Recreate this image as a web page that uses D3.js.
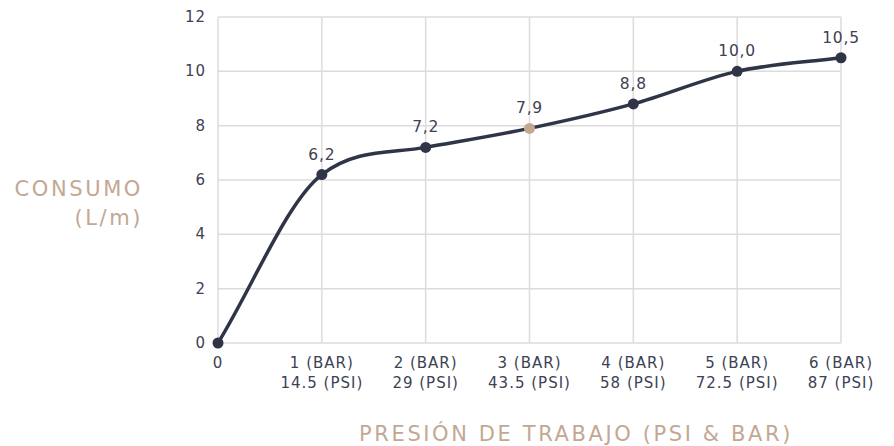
<!DOCTYPE html>
<html>
<head>
<meta charset="utf-8">
<script src="https://cdn.jsdelivr.net/npm/d3@7"></script>
<style>
  body { margin: 0; background: #fff; }
  svg { font-family: "DejaVu Sans", "Noto Sans", sans-serif; }
</style>
</head>
<body>
<div id="chart"></div>
<script>
// data
const bar = [0, 1, 2, 3, 4, 5, 6];
const barLabels = ["0", "1 (BAR)", "2 (BAR)", "3 (BAR)", "4 (BAR)", "5 (BAR)", "6 (BAR)"];
const psiLabels = ["", "14.5 (PSI)", "29 (PSI)", "43.5 (PSI)", "58 (PSI)", "72.5 (PSI)", "87 (PSI)"];
const consumo = [0, 6.2, 7.2, 7.9, 8.8, 10.0, 10.5];
const valueLabels = ["", "6,2", "7,2", "7,9", "8,8", "10,0", "10,5"];
const yTicks = [0, 2, 4, 6, 8, 10, 12];
const highlight = 3; // index of the tan point

const width = 894, height = 446;
const margin = { top: 17, right: 53, bottom: 103, left: 218 };
const textColor = "#3d4254", tan = "#c2a893", lineColor = "#2f3447";

const svg = d3.select("#chart").append("svg")
  .attr("width", width).attr("height", height);

const x = d3.scaleLinear().domain([0, 6]).range([margin.left, width - margin.right]);
const y = d3.scaleLinear().domain([0, 12]).range([height - margin.bottom, margin.top]);

// grid
svg.append("g").selectAll("line").data(yTicks).enter().append("line")
  .attr("x1", x(0)).attr("x2", x(6))
  .attr("y1", d => y(d)).attr("y2", d => y(d))
  .attr("stroke", "#dcdcdc").attr("stroke-width", 1.5);
svg.append("g").selectAll("line").data(bar).enter().append("line")
  .attr("x1", d => x(d)).attr("x2", d => x(d))
  .attr("y1", y(0)).attr("y2", y(12))
  .attr("stroke", "#dcdcdc").attr("stroke-width", 1.5);

// y tick labels
svg.append("g").selectAll("text").data(yTicks).enter().append("text")
  .attr("x", x(0) - 12).attr("y", d => y(d) + 5)
  .attr("text-anchor", "end").attr("font-size", 15).attr("fill", textColor)
  .attr("letter-spacing", 1)
  .text(d => d);

// x tick labels, two lines
const xl = svg.append("g").selectAll("text").data(bar).enter().append("text")
  .attr("text-anchor", "middle").attr("font-size", 15).attr("fill", textColor)
  .attr("letter-spacing", 1);
xl.append("tspan").attr("x", d => x(d)).attr("y", y(0) + 25).text((d, i) => barLabels[i]);
xl.append("tspan").attr("x", d => x(d)).attr("y", y(0) + 45).text((d, i) => psiLabels[i]);

// monotone (Fritsch-Carlson) smoothing in pixel space
const pts = consumo.map((d, i) => [x(bar[i]), y(d)]);
const n = pts.length;
const dk = [], mk = [];
for (let i = 0; i < n - 1; i++) dk.push((pts[i + 1][1] - pts[i][1]) / (pts[i + 1][0] - pts[i][0]));
for (let i = 0; i < n; i++) {
  if (i === 0) mk.push(dk[0]);
  else if (i === n - 1) mk.push(dk[n - 2]);
  else if (dk[i - 1] === 0 || dk[i] === 0 || Math.sign(dk[i - 1]) !== Math.sign(dk[i])) mk.push(0);
  else mk.push((dk[i - 1] + dk[i]) / 2);
}
for (let i = 0; i < n - 1; i++) {
  if (Math.abs(dk[i]) < 1e-9) { mk[i] = mk[i + 1] = 0; continue; }
  const a = mk[i] / dk[i], b = mk[i + 1] / dk[i], sq = a * a + b * b;
  if (sq <= 9) continue;
  const tau = 3 / Math.sqrt(sq);
  mk[i] = a * tau * dk[i];
  mk[i + 1] = b * tau * dk[i];
}
const p = d3.path();
p.moveTo(pts[0][0], pts[0][1]);
for (let i = 1; i < n; i++) {
  const dx = (pts[i][0] - pts[i - 1][0]) / 3;
  p.bezierCurveTo(pts[i - 1][0] + dx, pts[i - 1][1] + mk[i - 1] * dx,
                  pts[i][0] - dx, pts[i][1] - mk[i] * dx,
                  pts[i][0], pts[i][1]);
}
svg.append("path")
  .attr("d", p.toString()).attr("fill", "none")
  .attr("stroke", lineColor).attr("stroke-width", 3.5);

// points
svg.append("g").selectAll("circle").data(consumo).enter().append("circle")
  .attr("cx", (d, i) => x(bar[i])).attr("cy", d => y(d)).attr("r", 5.5)
  .attr("fill", (d, i) => i === highlight ? tan : lineColor);

// value labels
svg.append("g").selectAll("text").data(consumo).enter().append("text")
  .attr("x", (d, i) => x(bar[i])).attr("y", d => y(d) - 15)
  .attr("text-anchor", "middle").attr("font-size", 15.5).attr("fill", textColor)
  .attr("letter-spacing", 0.8)
  .text((d, i) => valueLabels[i]);

// axis titles
const titleStyle = sel => sel.attr("font-size", 21).attr("fill", tan).attr("letter-spacing", 2.6);
svg.append("text").attr("x", 143).attr("y", 196)
  .attr("text-anchor", "end").call(titleStyle)
  .text("CONSUMO");
svg.append("text").attr("x", 143).attr("y", 225)
  .attr("text-anchor", "end").call(titleStyle)
  .text("(L/m)");
svg.append("text").attr("x", 576).attr("y", 441)
  .attr("text-anchor", "middle").call(titleStyle)
  .text("PRESIÓN DE TRABAJO (PSI & BAR)");
</script>
</body>
</html>
